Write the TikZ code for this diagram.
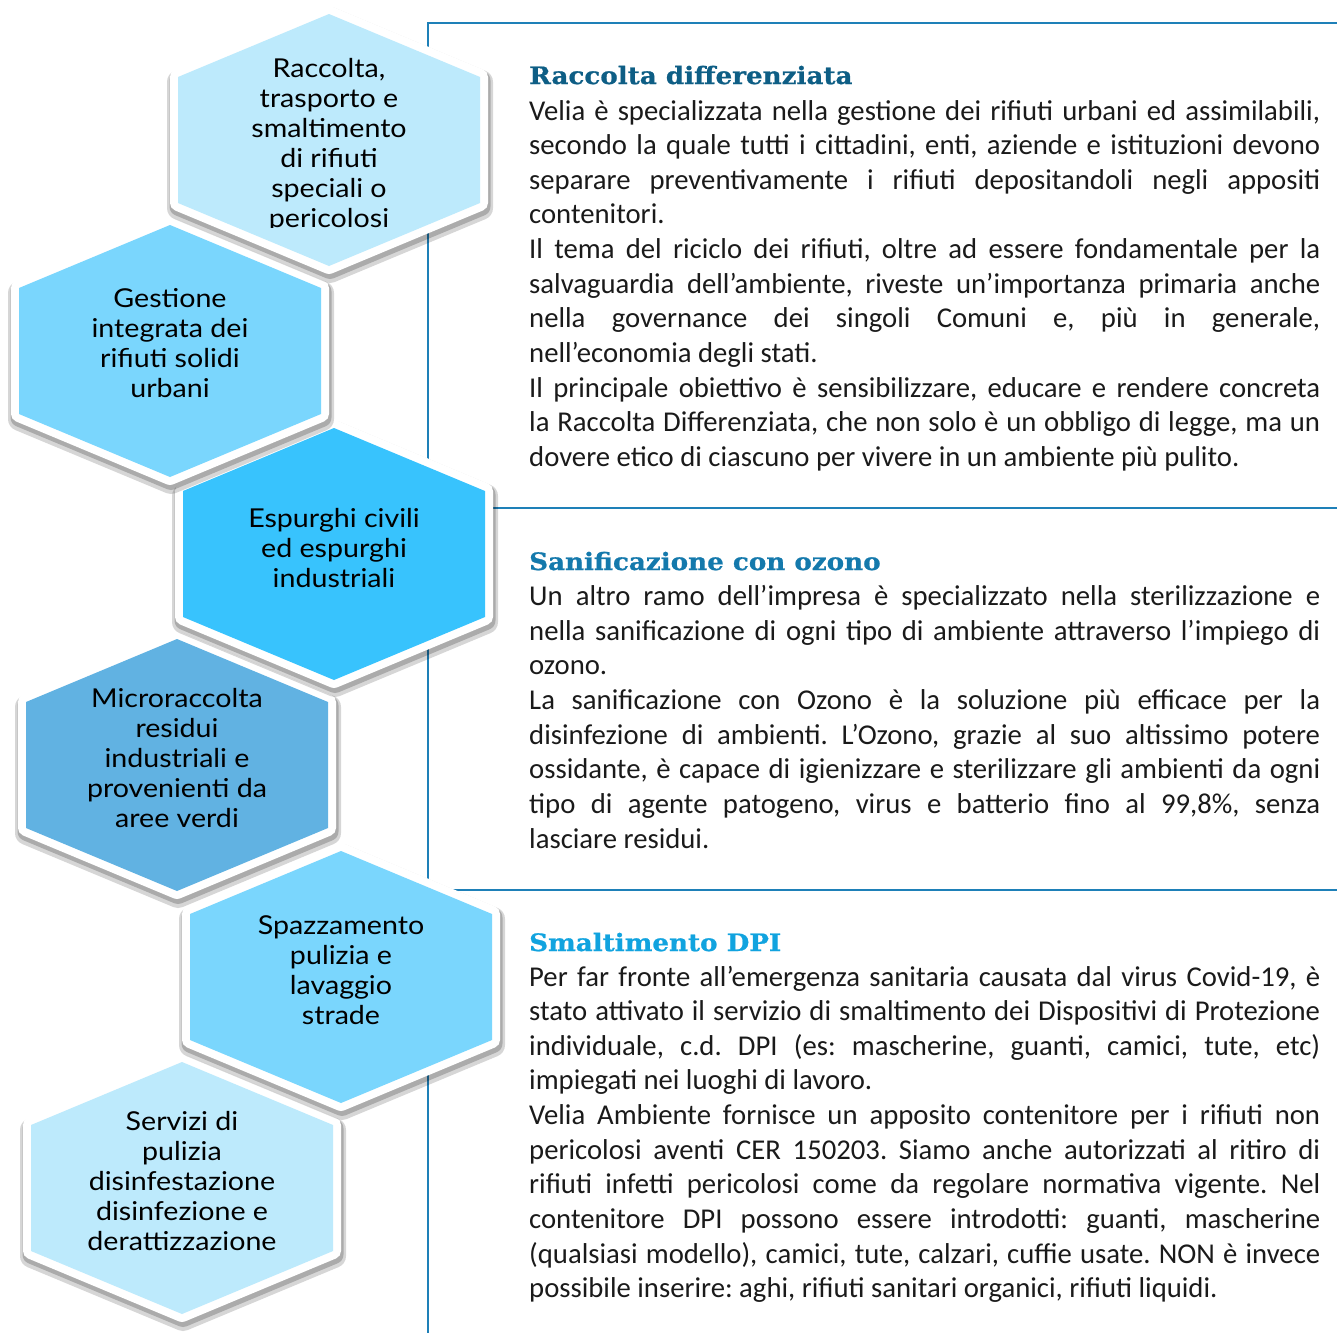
\documentclass[tikz,border=0pt]{standalone}
\usepackage{fontspec}
\setmainfont{Carlito}
\newfontfamily\hexfont[FakeStretch=1.1]{Lato}
\newfontfamily\headfont[FakeStretch=1.09,FakeBold=0.8]{DejaVu Serif}
\definecolor{hexA}{HTML}{BDEAFC}
\definecolor{hexB}{HTML}{7AD6FD}
\definecolor{hexC}{HTML}{38C3FD}
\definecolor{hexD}{HTML}{61B2E2}
\definecolor{framecol}{HTML}{1E80B8}
\definecolor{headA}{HTML}{0E5E85}
\definecolor{headB}{HTML}{1479AC}
\definecolor{headC}{HTML}{11A3DF}
\definecolor{bodycol}{HTML}{1A1A1A}
\newcommand\JL[1]{\hbox to 791pt{#1}}
\newcommand\LL[1]{\hbox{#1}}
\newcommand\hexlines[1]{\vtop{\baselineskip=30pt\lineskiplimit=-100pt\halign{\hfil##\hfil\cr#1\crcr}}}
\hbadness=10000 \hfuzz=100pt \vbadness=10000
\frenchspacing
\tikzset{
  hexstyle/.style={fill=#1,
    preaction={draw=black, opacity=.16, line width=24pt, line join=round,
      transform canvas={shift={(1pt,-5pt)}}},
    preaction={draw=black, opacity=.2, line width=19pt, line join=round,
      transform canvas={shift={(1pt,-3.5pt)}}},
    preaction={draw=white, line width=16pt, line join=round}},
  hextext/.style={inner sep=0pt, anchor=base, text=black,
    font=\hexfont\fontsize{26pt}{30pt}\selectfont},
  body/.style={inner sep=0pt, anchor=base west, text=bodycol,
    font=\fontsize{28.7pt}{34.65pt}\selectfont},
  head/.style={inner sep=0pt, anchor=base west,
    font=\headfont\bfseries\fontsize{24pt}{28pt}\selectfont},
  frame/.style={draw=framecol, line width=1.8pt}
}
\newcommand\hexagon[3]{%
  \path[hexstyle=#3] (#1,#2-126) -- (#1+151,#2-63) -- (#1+151,#2+63) --
    (#1,#2+126) -- (#1-151,#2+63) -- (#1-151,#2-63) -- cycle;}
\begin{document}
\begin{tikzpicture}[x=1pt,y=-1pt]
\useasboundingbox (0,0) rectangle (1337,1333);
% frame lines
\coordinate (fTL) at (428,23);
\coordinate (fTR) at (1337,23);
\coordinate (fB) at (428,1333);
\coordinate (m1L) at (428,508);
\coordinate (m1R) at (1337,508);
\coordinate (m2L) at (428,890);
\coordinate (m2R) at (1337,890);
\draw[frame] (fTR) -- (fTL) -- (fB);
\draw[frame] (m1L) -- (m1R);
\draw[frame] (m2L) -- (m2R);
% hexagons, bottom to top
\hexagon{182}{1188}{hexA}
\node[hextext] (h6) at (182,1130) {\hexlines{Servizi di\cr pulizia\cr disinfestazione\cr disinfezione e\cr derattizzazione}};
\hexagon{341}{977}{hexB}
\node[hextext] (h5) at (341,934) {\hexlines{Spazzamento\cr pulizia e\cr lavaggio\cr strade}};
\hexagon{177}{765}{hexD}
\node[hextext] (h4) at (177,707) {\hexlines{Microraccolta\cr residui\cr industriali e\cr provenienti da\cr aree verdi}};
\hexagon{334}{554}{hexC}
\node[hextext] (h3) at (334,527) {\hexlines{Espurghi civili\cr ed espurghi\cr industriali}};
\hexagon{170}{351}{hexB}
\node[hextext] (h2) at (170,307) {\hexlines{Gestione\cr integrata dei\cr rifiuti solidi\cr urbani}};
\hexagon{329}{140}{hexA}
\begin{scope}
\clip (150,0) rectangle (510,227);
\node[hextext] (h1) at (329,77) {\hexlines{Raccolta,\cr trasporto e\cr smaltimento\cr di rifiuti\cr speciali o\cr pericolosi}};
\end{scope}
% headings
\node[head, text=headA] (hd1) at (529,84) {Raccolta differenziata};
\node[head, text=headB] (hd2) at (529,570) {Sanificazione con ozono};
\node[head, text=headC] (hd3) at (529,951) {Smaltimento DPI};
% body texts
\node[body] (t1) at (529,120) {\vtop{\baselineskip=34.65pt
\JL{Velia è specializzata nella gestione dei rifiuti urbani ed assimilabili,}
\JL{secondo la quale tutti i cittadini, enti, aziende e istituzioni devono}
\JL{separare preventivamente i rifiuti depositandoli negli appositi}
\LL{contenitori.}
\JL{Il tema del riciclo dei rifiuti, oltre ad essere fondamentale per la}
\JL{salvaguardia dell’ambiente, riveste un’importanza primaria anche}
\JL{nella governance dei singoli Comuni e, più in generale,}
\LL{nell’economia degli stati.}
\JL{Il principale obiettivo è sensibilizzare, educare e rendere concreta}
\JL{la Raccolta Differenziata, che non solo è un obbligo di legge, ma un}
\LL{dovere etico di ciascuno per vivere in un ambiente più pulito.}}};
\node[body] (t2) at (529,605.5) {\vtop{\baselineskip=34.65pt
\JL{Un altro ramo dell’impresa è specializzato nella sterilizzazione e}
\JL{nella sanificazione di ogni tipo di ambiente attraverso l’impiego di}
\LL{ozono.}
\JL{La sanificazione con Ozono è la soluzione più efficace per la}
\JL{disinfezione di ambienti. L’Ozono, grazie al suo altissimo potere}
\JL{ossidante, è capace di igienizzare e sterilizzare gli ambienti da ogni}
\JL{tipo di agente patogeno, virus e batterio fino al 99,8\%, senza}
\LL{lasciare residui.}}};
\node[body] (t3) at (529,986) {\vtop{\baselineskip=34.65pt
\JL{Per far fronte all’emergenza sanitaria causata dal virus Covid-19, è}
\JL{stato attivato il servizio di smaltimento dei Dispositivi di Protezione}
\JL{individuale, c.d. DPI (es: mascherine, guanti, camici, tute, etc)}
\LL{impiegati nei luoghi di lavoro.}
\JL{Velia Ambiente fornisce un apposito contenitore per i rifiuti non}
\JL{pericolosi aventi CER 150203. Siamo anche autorizzati al ritiro di}
\JL{rifiuti infetti pericolosi come da regolare normativa vigente. Nel}
\JL{contenitore DPI possono essere introdotti: guanti, mascherine}
\JL{(qualsiasi modello), camici, tute, calzari, cuffie usate. NON è invece}
\LL{possibile inserire: aghi, rifiuti sanitari organici, rifiuti liquidi.}}};
\end{tikzpicture}
\end{document}
